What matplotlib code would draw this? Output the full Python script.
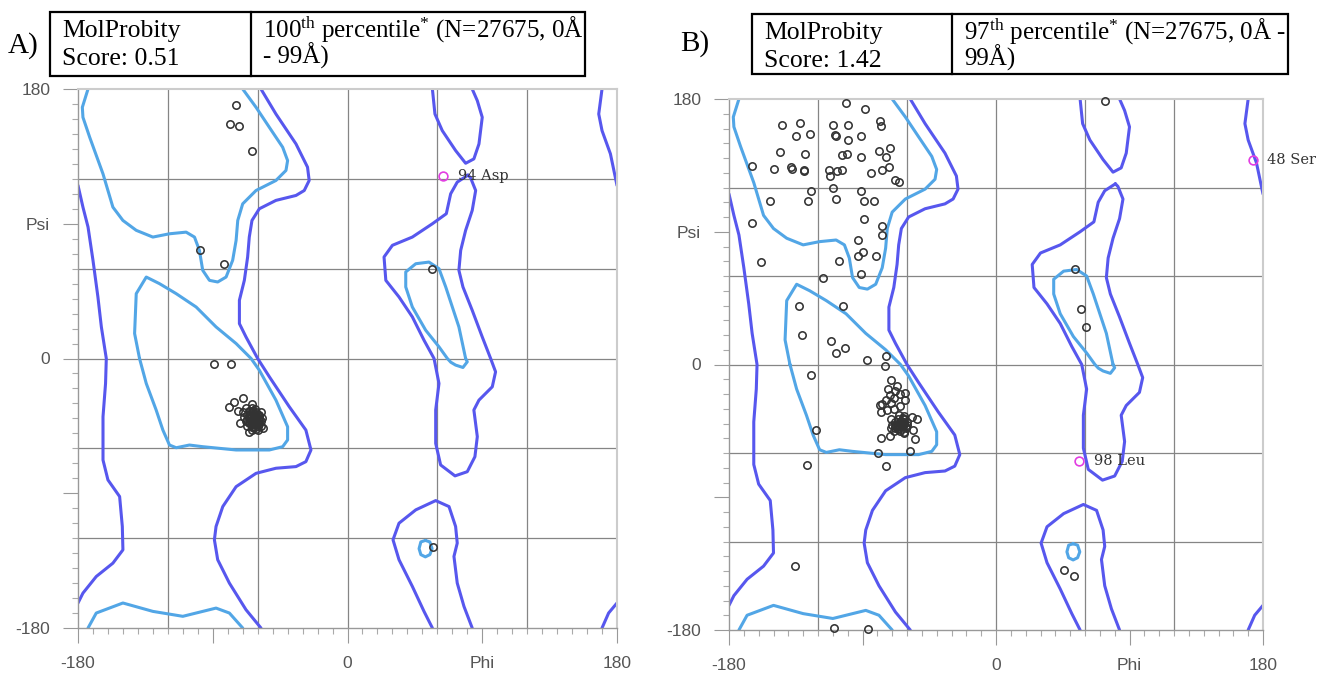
import matplotlib
matplotlib.use("Agg")
import matplotlib.pyplot as plt
from matplotlib.patches import Rectangle

plt.rcParams['mathtext.fontset'] = 'custom'
plt.rcParams['mathtext.rm'] = 'Liberation Serif'
plt.rcParams['mathtext.it'] = 'Liberation Serif:italic'

LIGHT = '#52a6e6'
DARK = '#5757ee'

# favoured (98%) contours, (phi, psi)
fav_beta = [(-173.3, 180), (-177.1, 167.8), (-176.7, 161.1), (-172.2, 147.8), (-163.3, 123.3),
            (-156.7, 101.1), (-150, 92.2), (-141.1, 85.6), (-130, 81.1), (-118.9, 83.3),
            (-107.8, 84.4), (-102.2, 81.1), (-98.9, 72.2), (-96.7, 58.9), (-92.2, 52.2),
            (-86.7, 51.1), (-81.1, 54.4), (-76.7, 65.6), (-74.4, 78.9), (-73.3, 92.2),
            (-70, 103.3), (-61.1, 112.2), (-47.8, 118.9), (-41.1, 125.6), (-40, 132.2),
            (-43.3, 141.1), (-52.2, 154.4), (-61.1, 167.8), (-70, 180)]
fav_beta_wrap = [(-173.3, -180), (-167.8, -170), (-150, -163.3), (-130, -168.9), (-110, -172.2),
                 (-87.8, -166.7), (-78.9, -170), (-70, -180)]
fav_alpha = [(-138.9, 0), (-142.2, 16.7), (-141.1, 43.3), (-134.4, 54.4), (-125.6, 50),
             (-114.4, 43.3), (-101.1, 34.4), (-87.8, 21.1), (-74.4, 10), (-64.4, 0),
             (-58.9, -7.8), (-47.8, -27.8), (-40, -45.6), (-40, -54.4), (-43.3, -58.9),
             (-52.2, -61.1), (-74.4, -61.1), (-96.7, -58.9), (-105.6, -57.8), (-114.4, -59.6),
             (-118.9, -57.8), (-123.3, -47.8), (-127.8, -34.4), (-134.4, -16.7), (-138.9, 0)]
fav_lalpha = [(78.9, 0), (74.4, 21.1), (65.6, 47.8), (61.1, 60), (54.4, 64.4), (45.6, 63.3),
              (38.9, 57.8), (38.9, 47.8), (43.3, 34.4), (52.2, 18.9), (61.1, 7.8), (66.7, 0),
              (69, -2.5), (72.2, -4.4), (77.1, -6), (80, -2.2), (78.9, 0)]
fav_small = [(52, -121.5), (55, -122.5), (56.5, -127), (55, -131), (52, -132.5), (49, -131),
             (47.8, -127), (49, -122.5), (52, -121.5)]

# allowed (99.95%) contours
alw_main_right = [(-57.8, 180), (-47.8, 163.3), (-34.4, 143.3), (-26.7, 127.8), (-25.6, 118.9),
                  (-28.9, 112.2), (-34.4, 108.9), (-47.8, 105.6), (-58.9, 100), (-63.8, 92.2),
                  (-65.6, 81.1), (-66.7, 67.8), (-68.9, 52.2), (-72.2, 38.9), (-72.2, 23.3),
                  (-67.8, 14.4), (-60, 0), (-52.2, -12.2), (-38.9, -32.2), (-27.8, -47.8),
                  (-24.4, -61.1), (-27.8, -68.9), (-34.4, -72.2), (-47.8, -73.3), (-61.1, -76.7),
                  (-74.4, -85.6), (-83.3, -98.9), (-87.8, -112.2), (-88.9, -121.1), (-86.7, -134.4),
                  (-78.9, -150), (-67.8, -167.8), (-57.8, -180)]
alw_main_left = [(-180, 115.6), (-176.7, 101.1), (-173.3, 87.8), (-170, 65.6), (-166.7, 41.1),
                 (-164.4, 21.1), (-161.1, 0), (-161.6, -16.7), (-163.3, -38.9), (-163.3, -67.8),
                 (-160, -81.1), (-152.2, -92.2), (-150.4, -112.2), (-150, -127.8), (-156.7, -136.7),
                 (-167.8, -145.6), (-176.7, -156.7), (-180, -163.3)]
alw_edge_bottom = [(180, -163.3), (174.4, -170), (170, -180)]
alw_edge_top = [(170, 180), (167.8, 163.3), (170, 152.2), (175.6, 136.7), (180, 115.6)]
alw_upper = [(56.7, 180), (58.4, 163.3), (63.3, 152.2), (72.2, 138.9), (78.9, 130.4),
             (84.4, 133.3), (87.8, 143.3), (90, 161.1), (86.7, 172.2), (83.3, 180)]
alw_lower = [(56.7, -180), (51.1, -168.9), (43.3, -152.2), (34.4, -134.4), (30.4, -121.1),
             (34.4, -110), (45.6, -101.1), (58.9, -94.9), (67.8, -98.9), (72.2, -112.2),
             (73.3, -123.3), (71.1, -132.2), (73.3, -150), (77.8, -165.6), (83.3, -180)]
alw_lalpha = [(80.5, 122.5), (73.3, 117.8), (68.9, 110), (66, 96.7), (56.7, 90), (43.3, 81.1),
              (30, 75.6), (24.4, 67.8), (25.6, 52.2), (34.4, 41.1), (43.3, 27.8), (51.1, 12.2),
              (57.8, 0), (61.1, -16.7), (58.9, -34.4), (58.9, -56.7), (62.2, -71.1), (71.8, -78.4),
              (80, -75.6), (85.1, -65.6), (86.7, -52.2), (84.4, -34.4), (87.8, -27.8), (96.7, -18.9),
              (98.9, -8.9), (95.6, 0), (90, 14.4), (83.3, 32.2), (77.1, 47.8), (74.4, 58.9),
              (75.6, 72.2), (78.9, 85.6), (83.3, 98.9), (85.6, 112.2), (82.2, 120.7), (80.5, 122.5)]

favoured = [fav_beta, fav_beta_wrap, fav_alpha, fav_lalpha, fav_small]
allowed = [alw_main_right, alw_main_left, alw_edge_bottom, alw_edge_top, alw_upper, alw_lower, alw_lalpha]

# residues, panel A
a_phi = [-74.4, -78.4, -72.2, -63.8, -98.2, -82.7, 56.7, -88.9, -77.6, 57.3,
         -70, -75.6, -78.9, -63.8, -73.3, -57.8, -71.8, -65.6, -56.7, -60,
         -68, -66, -64, -62, -60, -67, -65, -63, -61, -59, -66, -64, -62, -60, -58,
         -67, -63, -61, -69, -70, -64, -62, -59, -57,
         -65, -63, -61, -59, -66, -64, -62, -60, -65, -63, -61, -59, -64, -62, -60,
         -67, -65, -63, -61, -66, -62, -58, -68, -64]
a_psi = [169.3, 156.4, 155.1, 138.4, 72.2, 62.9, 59.6, -3.8, -3.8, -125.6,
         -26.7, -28.9, -32.7, -30.4, -35.1, -35.6, -42.9, -48.9, -46.7, -48,
         -33, -35, -36, -37, -38, -38, -40, -41, -40, -41, -43, -44, -44, -43, -42,
         -45, -46, -47, -39, -36, -33, -34, -38, -40,
         -37, -38, -39, -39, -40, -41, -42, -41, -43, -43, -44, -44, -46, -46, -45,
         -41, -35, -35, -36, -39, -40, -45, -42, -48]
a_outliers = [('94 Asp', 64, 122)]

# residues, panel B
b_phi = [-100.9, -88.1, -144.5, -131.9, -109.9, -99.8, -78, -77.3, -134.6, -125.6,
         -108.8, -108.1, -99.8, -91.3, -145.6, -128.5, -103.8, -100.2, -91.3, -78.9,
         -71.7, -73.9, -164.5, -149.7, -138, -137.3, -129.7, -129.4, -112.8, -111.7,
         -107, -103.6, -84, -76.9, -72.4, -67.9, -65.6, -124.9, -109.9, -91.3,
         -152.6, -126.7, -107.6, -89, -82.2, -164.5, -89.2, -76.9, -77.1, -93,
         -89.7, -93, -81.1, -158.4, -105.8, -90.8, -116.6, -132.8, -102.9, -130.6,
         -111.5, -101.6, -107.6, -86.7, -73.9, -74.6,
         -124.4, -71.1, -66.7, -72.7, -67.8, -64.9, -61.6, -71.6, -68.9, -74.4,
         -61.1, -76.7, -78.4, -71.1, -64.4, -73.8, -77.8, -68.9, -65.6, -56.7,
         -53.3, -71.1, -67.8, -63.3, -62.2, -60.4, -56, -71.1, -66.7, -71.6,
         -77.3, -54.9, -61.8, -65.6, -64, -62, -66, -63, -60, -68, -65, -62,
         -66, -64, -62, -60, -67, -65, -63, -61, -66, -64, -62, -68, -65, -63, -70, -69,
         -121.1, -79.3, -57.8, -127.3, -74.4,
         73.7, 53.3, 57.3, 60.4, -135.5, -109.2, -86.3, 45.9, 52.6]
b_psi = [177.3, 173.5, 162.7, 163.4, 162.7, 162.7, 164.9, 162, 154.6, 156.4,
         155.7, 154.6, 152.4, 154.6, 144, 142.5, 141.8, 142.7, 140.4, 144.7,
         146.5, 140.7, 134.8, 132.8, 134.2, 132.4, 131.7, 131, 131.9, 127.9,
         131, 131.9, 129.7, 131.7, 133.9, 124.9, 123.8, 117.8, 120, 117.8,
         111, 111, 111.9, 110.6, 110.8, 95.7, 98.9, 94.2, 87.9, 84.7,
         76.2, 73.3, 73.3, 69.2, 69.9, 61.1, 58.9, 40, 40, 20.2,
         16.2, 11.5, 8.1, 3.1, 6.1, -1.3,
         -7.3, -10.4, -14.9, -16.7, -17.8, -20, -19.3, -20.7, -22.9, -23.8,
         -23.8, -26.7, -27.3, -26, -28.2, -31.1, -32.2, -30, -34, -35.6,
         -37.1, -36.7, -38.9, -40, -37.1, -42.2, -44.4, -43.3, -42.2, -48.2,
         -49.6, -50.7, -46.7, -43.3, -38, -40, -41, -36, -39, -42, -45, -35,
         -37, -38, -39, -41, -40, -42, -41, -43, -44, -44, -46, -43, -39, -37, -41, -45,
         -44.7, -60, -58.9, -68.4, -69.1,
         178.4, 64.7, 37.3, 25.2, -136.6, -178.6, -179.3, -139.3, -143.4]
b_outliers = [('48 Ser', 173, 138.4), ('98 Leu', 56, -65.6)]

W, H = 1319, 675
fig = plt.figure(figsize=(W / 100, H / 100), dpi=100)


def draw_panel(rect, phi, psi, outliers):
    x0, y0, x1, y1 = rect
    ax = fig.add_axes([x0 / W, 1 - y1 / H, (x1 - x0) / W, (y1 - y0) / H])
    ax.set_xlim(-180, 180)
    ax.set_ylim(-180, 180)
    for v in [-120, -60, 0, 60, 120]:
        ax.axvline(v, color='#858585', lw=0.9, zorder=0)
        ax.axhline(v, color='#858585', lw=0.9, zorder=0)
    for c in favoured:
        ax.plot([p[0] for p in c], [p[1] for p in c], color=LIGHT, lw=2.2,
                solid_joinstyle='round', solid_capstyle='round', zorder=2)
    for c in allowed:
        ax.plot([p[0] for p in c], [p[1] for p in c], color=DARK, lw=2.2,
                solid_joinstyle='round', solid_capstyle='round', zorder=2)
    ax.plot(phi, psi, 'o', mfc='none', mec='#333333', ms=5.3, mew=1.15, zorder=3, clip_on=False)
    for name, x, y in outliers:
        ax.plot(x, y, 'o', mfc='none', mec='#e23ee2', ms=6.3, mew=1.2, zorder=4, clip_on=False)
        ax.text(x + 10, y, name, fontsize=10.5, family='DejaVu Serif', color='#333333',
                va='center', ha='left', clip_on=False)
    ax.set_xticks([-180, -90, 0, 90, 180])
    ax.set_xticklabels(['-180', '', '0', 'Phi', '180'])
    ax.set_yticks([-180, -90, 0, 90, 180])
    ax.set_yticklabels(['-180', '', '0', 'Psi', '180'])
    ax.set_xticks(range(-180, 181, 10), minor=True)
    ax.set_yticks(range(-180, 181, 10), minor=True)
    ax.tick_params(which='major', length=11, width=0.8, color='#999999', pad=9,
                   labelsize=12.5, labelcolor='#555555')
    ax.tick_params(which='minor', length=4.5, width=0.8, color='#aaaaaa')
    for t in ax.get_xticklabels() + ax.get_yticklabels():
        t.set_family('Liberation Sans')
    for s in ['left', 'bottom']:
        ax.spines[s].set_color('#999999')
        ax.spines[s].set_linewidth(1.0)
    for s in ['top', 'right']:
        ax.spines[s].set_color('#cccccc')
        ax.spines[s].set_linewidth(1.5)
    return ax


draw_panel((78, 89, 617, 628), a_phi, a_psi, a_outliers)
draw_panel((729, 99, 1263, 630), b_phi, b_psi, b_outliers)

# score tables above the plots (pixel coordinates)
ov = fig.add_axes([0, 0, 1, 1], zorder=10)
ov.set_xlim(0, W)
ov.set_ylim(H, 0)
ov.axis('off')
ov.patch.set_alpha(0)

tables = [
    ('A)', 8, 46, (50, 12, 585, 76), 251, '0.51',
     '100$^{\\mathrm{th}}$ percentile$^{*}$ (N=27675, 0Å', '- 99Å)'),
    ('B)', 680, 44, (752, 14, 1288, 74), 952, '1.42',
     '97$^{\\mathrm{th}}$ percentile$^{*}$ (N=27675, 0Å -', '99Å)'),
]
for lab, lx, ly, box, div, score, line1, line2 in tables:
    bx0, by0, bx1, by1 = box
    ov.add_patch(Rectangle((bx0, by0), bx1 - bx0, by1 - by0, fill=False, ec='black', lw=1.6))
    ov.plot([div, div], [by0, by1], color='black', lw=1.6)
    ov.text(lx, ly, lab, fontsize=21, family='Liberation Serif', va='center', ha='left')
    ov.text(bx0 + 12, by0 + 19, 'MolProbity', fontsize=18.5, family='Liberation Serif', va='center')
    ov.text(bx0 + 12, by0 + 47, 'Score: ' + score, fontsize=18.5, family='Liberation Serif', va='center')
    ov.text(div + 12, by0 + 17, line1, fontsize=18, family='Liberation Serif', va='center')
    ov.text(div + 12, by0 + 44, line2, fontsize=18, family='Liberation Serif', va='center')

fig.savefig('out.png', dpi=100)
